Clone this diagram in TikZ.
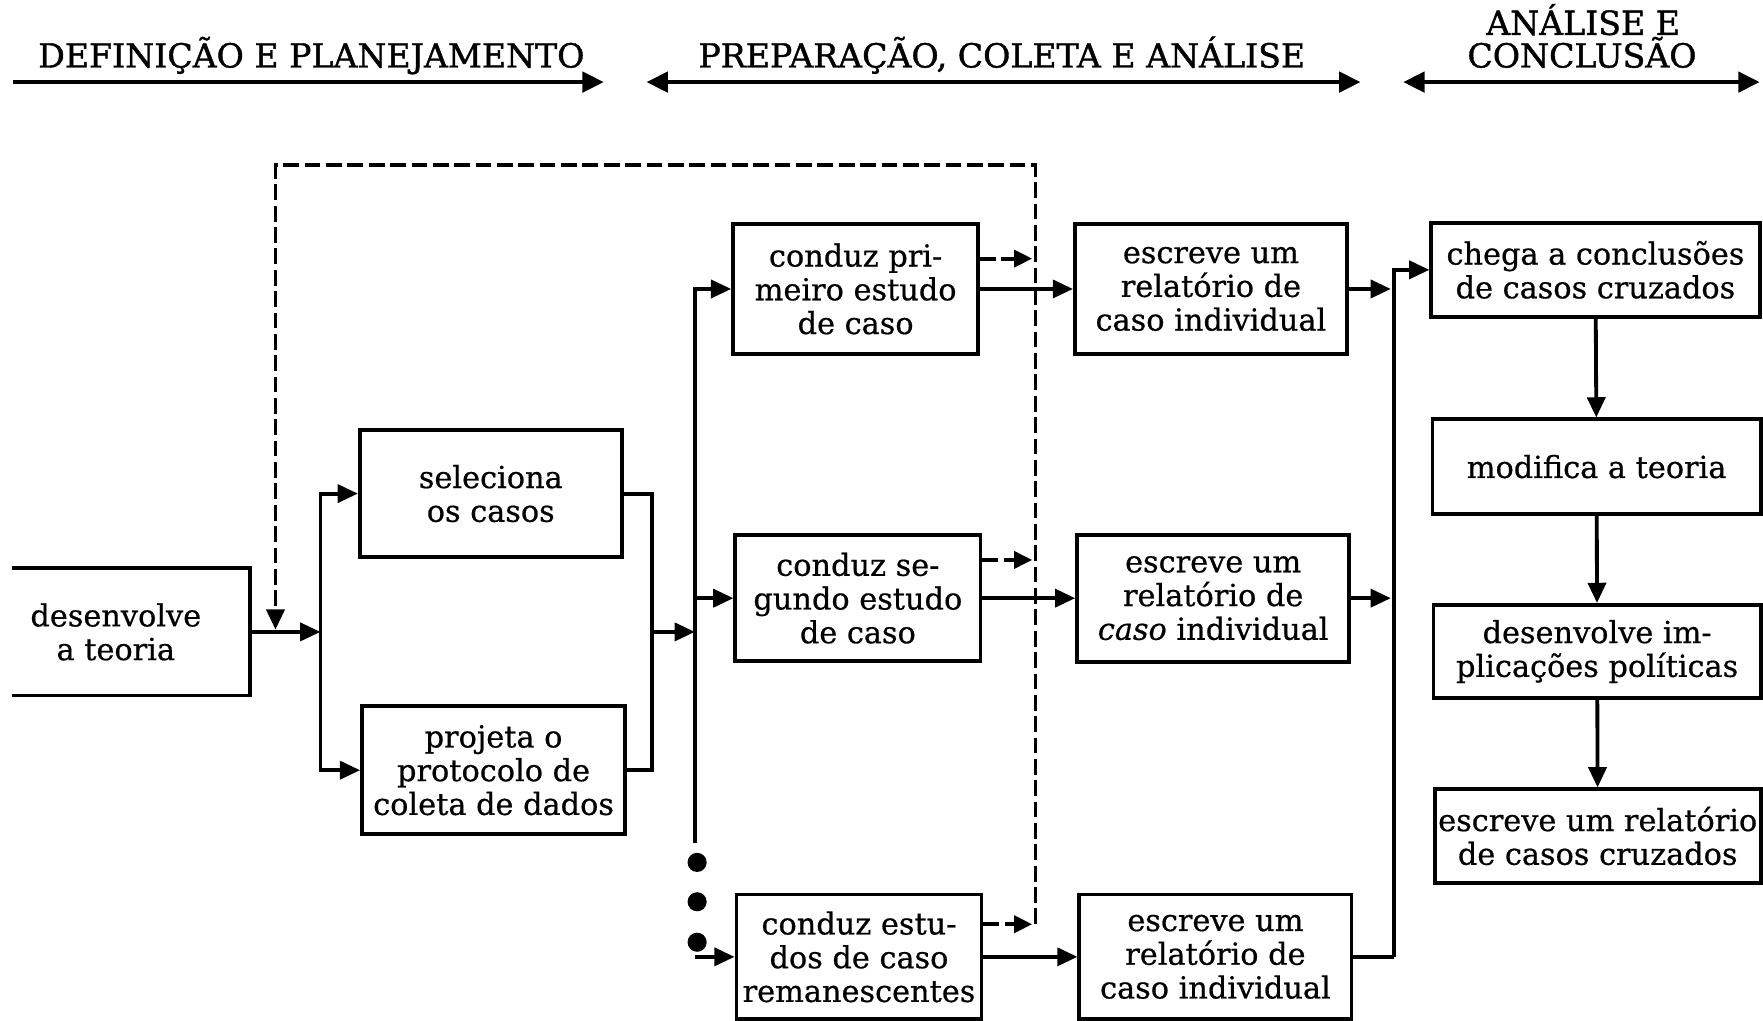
\documentclass[tikz,border=0pt]{standalone}
\usepackage{fontspec}
\setmainfont{DejaVu Serif}
\newfontfamily\boxfont[FakeBold=0.6]{DejaVu Serif}
\newfontfamily\hdrfont[FakeBold=1.2]{DejaVu Serif}
\usetikzlibrary{arrows.meta}
\begin{document}
\begin{tikzpicture}[x=1pt,y=-1pt,
  box/.style={draw,line width=3.4pt,align=center,inner sep=0pt,font=\boxfont\fontsize{27}{30}\selectfont},
  arr/.style={line width=3.4pt,-{Triangle[length=18pt,width=16pt]}},
  ln/.style={line width=3.4pt},
  dsh/.style={line width=3.4pt,dash pattern=on 14pt off 5pt},
  harr/.style={line width=3.6pt,{Triangle[length=19pt,width=18pt]}-{Triangle[length=19pt,width=18pt]}},
  harrr/.style={line width=3.6pt,-{Triangle[length=19pt,width=18pt]}},
  hdr/.style={font=\hdrfont\fontsize{29.5}{32}\selectfont,inner sep=0pt},
  dot/.style={circle,fill,inner sep=0pt,minimum size=17pt}]
\useasboundingbox (0,0) rectangle (1568,908);
\fill[white] (0,0) rectangle (1568,908);

% headers
\node[hdr,anchor=base east] (h1) at (520,60) {DEFINIÇÃO E PLANEJAMENTO};
\node[hdr,anchor=base] (h2) at (891,60) {PREPARAÇÃO, COLETA E ANÁLISE};
\node[hdr,anchor=base] (h3a) at (1408,31) {ANÁLISE E};
\node[hdr,anchor=base] (h3b) at (1407,60) {CONCLUSÃO};
\coordinate (a1s) at (12,73);
\coordinate (a1e) at (537,73);
\coordinate (a2s) at (575,73);
\coordinate (a2e) at (1210,73);
\coordinate (a3s) at (1248,73);
\coordinate (a3e) at (1565,73);
\draw[harrr] (a1s) -- (a1e);
\draw[harr] (a2s) -- (a2e);
\draw[harr] (a3s) -- (a3e);

% boxes
\node[box,minimum width=238pt,minimum height=113pt] (teo) at (103,562) {desenvolve\\a teoria};
\node[box,minimum width=233pt,minimum height=113pt] (sel) at (436.5,439) {seleciona\\os casos};
\node[box,minimum width=234pt,minimum height=114pt] (proj) at (439,685) {projeta o\\protocolo de\\coleta de dados};
\node[box,minimum width=218pt,minimum height=115pt] (c1) at (761,257) {conduz pri-\\meiro estudo\\de caso};
\node[box,minimum width=218pt,minimum height=112pt] (c2) at (763,532) {conduz se-\\gundo estudo\\de caso};
\node[box,minimum width=218pt,minimum height=111pt] (c3) at (764,851) {conduz estu-\\dos de caso\\remanescentes};
\node[box,minimum width=242pt,minimum height=115pt] (e1) at (1077,257) {escreve um\\relatório de\\caso individual};
\node[box,minimum width=242pt,minimum height=113pt] (e2) at (1079,532) {escreve um\\relatório de\\{\itshape caso} individual};
\node[box,minimum width=242pt,minimum height=111pt] (e3) at (1081,851) {escreve um\\relatório de\\caso individual};
\node[box,minimum width=292pt,minimum height=84pt] (r1) at (1419,240) {chega a conclusões\\de casos cruzados};
\node[box,minimum width=292pt,minimum height=84pt] (r2) at (1420,415) {modifica a teoria};
\node[box,minimum width=291pt,minimum height=83pt] (r3) at (1420.5,579.5) {desenvolve im-\\plicações políticas};
\node[box,minimum width=290pt,minimum height=83pt] (r4) at (1421,743.5) {escreve um relatório\\de casos cruzados};

% junction coordinates
\coordinate (j1) at (285,562);
\coordinate (j2) at (580,562);
\coordinate (j3) at (618,562);
\coordinate (vbot) at (618,750);
\coordinate (c3in) at (618,851);
\coordinate (t1) at (1237,257);
\coordinate (t2) at (1237,532);
\coordinate (eb) at (1240,851);

% left part
\draw[arr] (teo.east) -- (j1);
\draw[arr] (j1) |- (sel.west);
\draw[arr] (j1) |- (proj.west);
\draw[ln] (sel.east) -| (j2);
\draw[ln] (proj.east) -| (j2);
\draw[arr] (j2) -- (j3);
\draw[arr] (vbot) |- (c1.west);
\draw[arr] (vbot) |- (c2.west);
\draw[arr] (c3in) -- (c3.west);

% dots
\node[dot] (d1) at (620,767) {};
\node[dot] (d2) at (620,802) {};
\node[dot] (d3) at (620,838) {};

% middle
\draw[arr] (c1.east) -- (e1.west);
\draw[arr] (c2.east) -- (e2.west);
\draw[arr] (c3.east) -- (e3.west);

% dashed feedback
\coordinate (q1) at (918,230);
\coordinate (q2) at (918,498);
\coordinate (q3) at (918,822);
\draw[dsh,-{Triangle[length=16pt,width=15pt]}] ([yshift=27pt]c1.east) -- (q1);
\draw[dsh,-{Triangle[length=16pt,width=15pt]}] ([yshift=34pt]c2.east) -- (q2);
\draw[dsh,-{Triangle[length=16pt,width=15pt]}] ([yshift=29pt]c3.east) -- (q3);
\coordinate (fb0) at (921,822);
\coordinate (fb1) at (921,147);
\coordinate (fb2) at (245,147);
\coordinate (fb3) at (245,560);
\draw[dsh,-{Triangle[length=18pt,width=16pt]}] (fb0) -- (fb1) -- (fb2) -- (fb3);

% right part
\draw[arr] (e1.east) -- (t1);
\draw[arr] (e2.east) -- (t2);
\draw[ln] (e3.east) -- (eb);
\draw[arr] (eb) |- (r1.west);
\draw[arr] (r1) -- (r2);
\draw[arr] (r2) -- (r3);
\draw[arr] (r3) -- (r4);

% cropped left margin as in the scan
\fill[white] (0,0) rectangle (11,908);
\end{tikzpicture}
\end{document}
